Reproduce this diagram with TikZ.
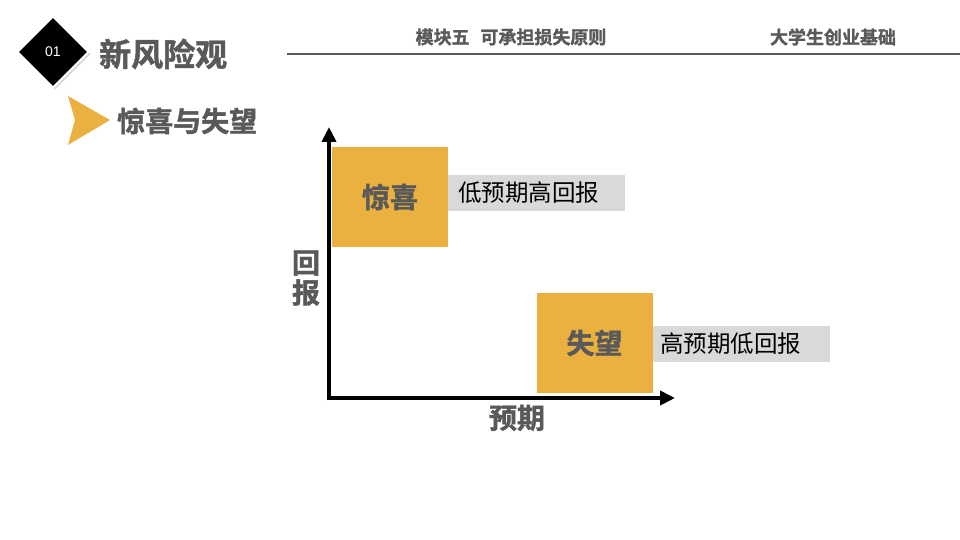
\documentclass[tikz,border=0pt]{standalone}
\usepackage{fontspec}
\setmainfont{Noto Sans CJK SC}
\newfontfamily\cjkb[FakeBold=1.5]{Noto Sans CJK SC Bold}
\newfontfamily\cjkr{Noto Sans CJK SC}
\newfontfamily\latinsans{Liberation Sans}
\usetikzlibrary{arrows.meta,shadows,shapes.geometric}
\definecolor{gold}{HTML}{EAB040}
\definecolor{darkgray}{HTML}{595959}
\definecolor{labelgray}{HTML}{D9D9D9}
\tikzset{
  boldtxt/.style={font=\cjkb, text=darkgray, inner sep=0pt},
  goldbox/.style={fill=gold, draw=none, minimum width=116pt, minimum height=100pt, inner sep=0pt, font=\cjkb\fontsize{28}{28}\selectfont, text=darkgray},
  labelbox/.style={fill=labelgray, draw=none, minimum width=177pt, minimum height=36pt, inner sep=0pt, anchor=west, font=\cjkr\fontsize{23.5}{23.5}\selectfont, text=black, text width=169pt, align=left},
  axis/.style={line width=4pt, -{Triangle[width=14pt,length=15pt]}}
}
\begin{document}
\begin{tikzpicture}[x=1pt,y=-1pt]
\useasboundingbox (0,0) rectangle (960,540);
% diamond badge
\node[diamond, minimum width=72pt, minimum height=72pt, inner sep=0pt, fill=black, draw=white, line width=2pt,
      drop shadow={shadow xshift=2pt, shadow yshift=-2pt, opacity=0.3}] (badge) at (53,52) {};
\node[text=white, font=\latinsans\fontsize{14}{14}\selectfont, inner sep=0pt] (badgetxt) at (badge.center) {01};
\node[boldtxt, font=\cjkb\fontsize{32}{32}\selectfont, anchor=west] (title) at (99,54) {新风险观};
% chevron
\fill[gold] (68,96) -- (110,120) -- (68,145) -- (75,120) -- cycle;
\node[boldtxt, font=\cjkb\fontsize{28}{28}\selectfont, anchor=west] (sub) at (117,121) {惊喜与失望};
% header
\node[boldtxt, font=\cjkb\fontsize{18}{18}\selectfont] (hdr1) at (511,37) {模块五\hspace{0.6em}可承担损失原则};
\node[boldtxt, font=\cjkb\fontsize{18}{18}\selectfont] (hdr2) at (833,37) {大学生创业基础};
\coordinate (hl) at (287,54);
\coordinate (hr) at (960,54);
\draw[darkgray, line width=2pt] (hl) -- (hr);
% axes
\coordinate (origin) at (329,398);
\coordinate (ytop) at (329,127);
\coordinate (xright) at (675,398);
\draw[axis] ([yshift=-2pt]origin) -- (ytop);
\draw[axis] ([xshift=-2pt]origin) -- (xright);
% boxes
\node[goldbox] (surprise) at (390,197) {惊喜};
\node[labelbox] (surpriselbl) at (448,193) {\hspace*{6pt}低预期高回报};
\node[goldbox] (disappoint) at (594.5,343) {失望};
\node[labelbox] (disappointlbl) at (653,344) {\hspace*{3pt}高预期低回报};
% axis labels
\node[boldtxt, font=\cjkb\fontsize{28}{28}\selectfont, align=center] (ylbl) at (306,278) {回\\[2pt]报};
\node[boldtxt, font=\cjkb\fontsize{28}{28}\selectfont] (xlbl) at (517,418) {预期};
\end{tikzpicture}
\end{document}
